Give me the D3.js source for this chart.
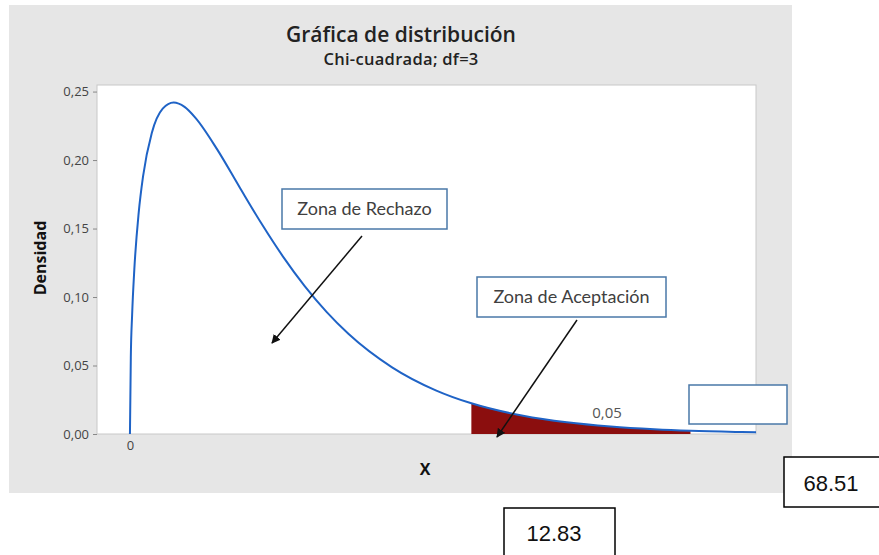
<!DOCTYPE html>
<html>
<head>
<meta charset="utf-8">
<script src="https://cdn.jsdelivr.net/npm/d3@7"></script>
<style>
	body { margin: 0; background: #fff; }
	svg text { font-family: "Open Sans", "Noto Sans", sans-serif; }
</style>
</head>
<body>
<div id="chart"></div>
<script>
var xValues = [0, 0.02, 0.05, 0.1, 0.2, 0.3, 0.5, 0.75, 1, 1.25, 1.5, 2, 2.5, 3, 3.5, 4, 4.5, 5, 6, 7, 7.815, 9, 10, 11, 12, 12.83, 14, 14.33];
var densities = [0, 0.0559, 0.087, 0.12, 0.1614, 0.1881, 0.2197, 0.2375, 0.242, 0.2388, 0.2308, 0.2076, 0.1807, 0.1542, 0.1297, 0.108, 0.0892, 0.0732, 0.0487, 0.0319, 0.0224, 0.0133, 0.0085, 0.0054, 0.0034, 0.0023, 0.0014, 0.0012];

// shaded tail
var tailStart = 7.815;
var tailEnd = 12.83;
var tailLabel = "0,05";

var yTicks = [0, 0.05, 0.10, 0.15, 0.20, 0.25];
var xTicks = [0];

var title = "Gráfica de distribución";
var subtitle = "Chi-cuadrada; df=3";

var size = { width: 879, height: 555 };

// plot area
var plot = { left: 97, right: 756, top: 85, bottom: 434 };

var xScale = d3.scaleLinear()
	.domain([-0.754, 14.33])
	.range([plot.left, plot.right]);

var yScale = d3.scaleLinear()
	.domain([0, 0.2548])
	.range([plot.bottom, plot.top]);

var points = xValues.map(function(x, i) { return { x: x, y: densities[i] }; });

var svg = d3.select("#chart").append("svg")
	.attr("width", size.width)
	.attr("height", size.height);

svg.append("defs").append("marker")
	.attr("id", "arrow")
	.attr("viewBox", "0 0 10 10")
	.attr("refX", 9)
	.attr("refY", 5)
	.attr("markerWidth", 6)
	.attr("markerHeight", 6)
	.attr("orient", "auto")
	.append("path")
	.attr("d", "M0,0 L10,5 L0,10 z")
	.attr("fill", "#111");

// gray panel
svg.append("rect")
	.attr("x", 9).attr("y", 5)
	.attr("width", 783).attr("height", 488)
	.attr("fill", "#e6e6e6");

// white plot area
svg.append("rect")
	.attr("x", plot.left).attr("y", plot.top)
	.attr("width", plot.right - plot.left).attr("height", plot.bottom - plot.top)
	.attr("fill", "#fff")
	.attr("stroke", "#c8c8c8")
	.attr("stroke-width", 1);

// titles
svg.append("text")
	.attr("x", 401).attr("y", 42)
	.attr("text-anchor", "middle")
	.style("font-size", "21px")
	.style("font-weight", "600")
	.attr("fill", "#222")
	.text(title);

svg.append("text")
	.attr("x", 401).attr("y", 65)
	.attr("text-anchor", "middle")
	.style("font-size", "16.5px")
	.style("font-weight", "600")
	.style("letter-spacing", "0.3px")
	.attr("fill", "#222")
	.text(subtitle);

// y axis
var y_axis = d3.axisLeft(yScale)
	.tickValues(yTicks)
	.tickSize(4)
	.tickPadding(4)
	.tickFormat(function(d) { return d3.format(".2f")(d).replace(".", ","); });

var yg = svg.append("g")
	.attr("transform", "translate(" + plot.left + ",0)")
	.call(y_axis);
yg.select(".domain").remove();
yg.selectAll("line").attr("stroke", "#888");
yg.selectAll("text")
	.style("font-size", "13px")
	.attr("fill", "#444");

// x axis (only the 0 tick)
var x_axis = d3.axisBottom(xScale)
	.tickValues(xTicks)
	.tickSize(0)
	.tickPadding(7)
	.tickFormat(d3.format("d"));

var xg = svg.append("g")
	.attr("transform", "translate(0," + plot.bottom + ")")
	.call(x_axis);
xg.select(".domain").remove();
xg.selectAll("text")
	.style("font-size", "13px")
	.attr("fill", "#444");

// axis labels
svg.append("text")
	.attr("transform", "translate(46,258) rotate(-90)")
	.attr("text-anchor", "middle")
	.style("font-size", "16px")
	.style("font-weight", "bold")
	.attr("fill", "#111")
	.text("Densidad");

svg.append("text")
	.attr("x", 425).attr("y", 475)
	.attr("text-anchor", "middle")
	.style("font-size", "16px")
	.style("font-weight", "bold")
	.attr("fill", "#111")
	.text("X");

// shaded tail
var tail = points.filter(function(d) { return d.x >= tailStart && d.x <= tailEnd; });

svg.append("path")
	.datum(tail)
	.attr("fill", "#8b0e0e")
	.attr("d", d3.area()
		.x(function(d) { return xScale(d.x); })
		.y0(yScale(0))
		.y1(function(d) { return yScale(d.y); })
		.curve(d3.curveMonotoneX));

// density curve
svg.append("path")
	.datum(points)
	.attr("fill", "none")
	.attr("stroke", "#1f63c6")
	.attr("stroke-width", 2)
	.attr("d", d3.line()
		.x(function(d) { return xScale(d.x); })
		.y(function(d) { return yScale(d.y); })
		.curve(d3.curveMonotoneX));

svg.append("text")
	.attr("x", 607).attr("y", 418)
	.attr("text-anchor", "middle")
	.style("font-size", "15px")
	.attr("fill", "#555")
	.text(tailLabel);

// annotation callouts
var callouts = [
	{ label: "Zona de Rechazo", x: 282, y: 189, w: 165, h: 40, from: [362, 236], to: [272, 343] },
	{ label: "Zona de Aceptación", x: 477, y: 277, w: 189, h: 40, from: [577, 320], to: [497, 437] }
];

callouts.forEach(function(c) {
	var g = svg.append("g");
	g.append("rect")
		.attr("x", c.x).attr("y", c.y)
		.attr("width", c.w).attr("height", c.h)
		.attr("fill", "#fff")
		.attr("stroke", "#4a78a8")
		.attr("stroke-width", 1.5);
	g.append("text")
		.attr("x", c.x + c.w / 2).attr("y", c.y + c.h / 2 + 6)
		.attr("text-anchor", "middle")
		.style("font-family", "Lato, sans-serif")
		.style("font-size", "18px")
		.attr("fill", "#404040")
		.text(c.label);
	g.append("line")
		.attr("x1", c.from[0]).attr("y1", c.from[1])
		.attr("x2", c.to[0]).attr("y2", c.to[1])
		.attr("stroke", "#111")
		.attr("stroke-width", 1.5)
		.attr("marker-end", "url(#arrow)");
});

// empty box
svg.append("rect")
	.attr("x", 689).attr("y", 385)
	.attr("width", 98).attr("height", 39)
	.attr("fill", "#fff")
	.attr("stroke", "#4a78a8")
	.attr("stroke-width", 1.5);

// value boxes
var valueBoxes = [
	{ label: "68.51", x: 784, y: 457, w: 100, h: 50, tx: 831, ty: 491 },
	{ label: "12.83", x: 504, y: 508, w: 111, h: 60, tx: 554, ty: 541 }
];

valueBoxes.forEach(function(b) {
	svg.append("rect")
		.attr("x", b.x).attr("y", b.y)
		.attr("width", b.w).attr("height", b.h)
		.attr("fill", "#fff")
		.attr("stroke", "#000")
		.attr("stroke-width", 1.5);
	svg.append("text")
		.attr("x", b.tx).attr("y", b.ty)
		.attr("text-anchor", "middle")
		.style("font-family", "'Liberation Sans', Arial, sans-serif")
		.style("font-size", "22px")
		.attr("fill", "#111")
		.text(b.label);
});
</script>
</body>
</html>
